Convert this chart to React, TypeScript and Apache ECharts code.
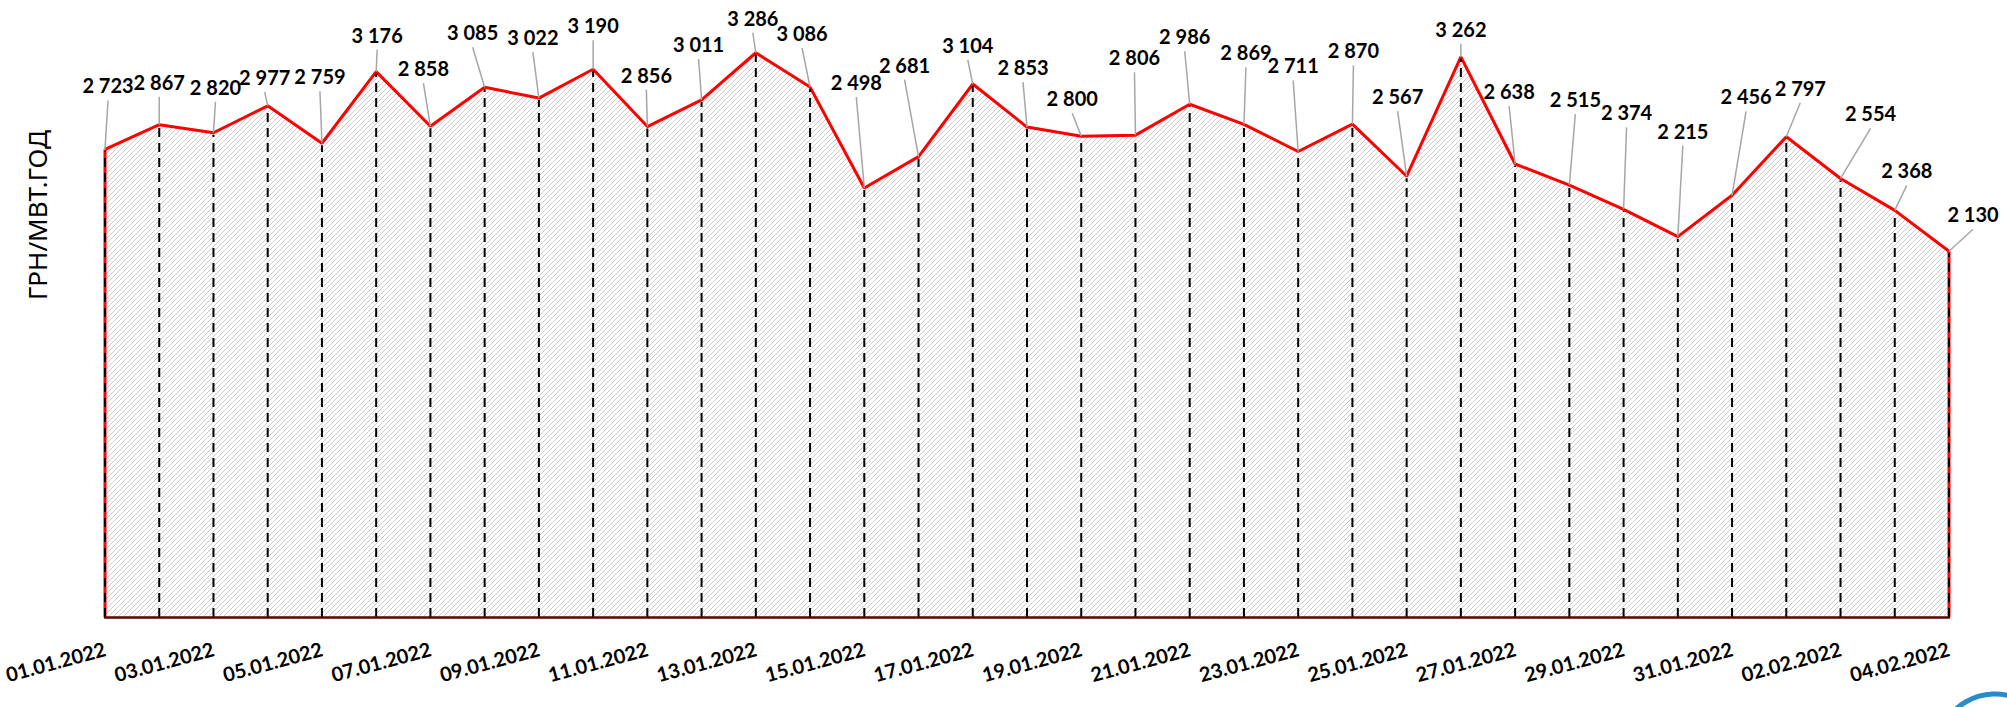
import React, { useEffect, useRef } from "react";
import * as echarts from "echarts";

const dates: string[] = [
  "01.01.2022", "02.01.2022", "03.01.2022", "04.01.2022", "05.01.2022", "06.01.2022", "07.01.2022",
  "08.01.2022", "09.01.2022", "10.01.2022", "11.01.2022", "12.01.2022", "13.01.2022", "14.01.2022",
  "15.01.2022", "16.01.2022", "17.01.2022", "18.01.2022", "19.01.2022", "20.01.2022", "21.01.2022",
  "22.01.2022", "23.01.2022", "24.01.2022", "25.01.2022", "26.01.2022", "27.01.2022", "28.01.2022",
  "29.01.2022", "30.01.2022", "31.01.2022", "01.02.2022", "02.02.2022", "03.02.2022", "04.02.2022",
];

const prices: number[] = [
  2723, 2867, 2820, 2977, 2759, 3176, 2858, 3085, 3022, 3190, 2856, 3011, 3286, 3086, 2498, 2681,
  3104, 2853, 2800, 2806, 2986, 2869, 2711, 2870, 2567, 3262, 2638, 2515, 2374, 2215, 2456, 2797,
  2554, 2368, 2130,
];

// label placement relative to each point [dx, dy] (style only)
const labelOffsets: [number, number][] = [
  [3, -64], [0, -43], [2, -46], [-3, -29], [-2, -67], [1, -37], [-7, -58], [-12, -55], [-6, -61],
  [0, -44], [-1, -52], [-3, -56], [-3, -35], [-8, -54], [-8, -106], [-14, -92], [-5, -39], [-4, -60],
  [-9, -38], [-1, -78], [-5, -68], [2, -72], [-5, -86], [1, -74], [-9, -80], [0, -28], [-6, -73],
  [6, -86], [3, -97], [5, -106], [14, -99], [14, -49], [30, -65], [12, -40], [24, -37],
];

const yName = "ГРН/МВТ.ГОД";

function fmt(v: number): string {
  const s = String(Math.round(v));
  return s.replace(/\B(?=(\d{3})+(?!\d))/g, " ");
}

function makeHatch(): string {
  const size = 5;
  const c = document.createElement("canvas");
  c.width = size;
  c.height = size;
  const ctx = c.getContext("2d");
  if (ctx) {
    ctx.fillStyle = "#ffffff";
    ctx.fillRect(0, 0, size, size);
    ctx.strokeStyle = "#cccccc";
    ctx.lineWidth = 1;
    ctx.beginPath();
    ctx.moveTo(-1, size + 1);
    ctx.lineTo(size + 1, -1);
    ctx.moveTo(-2, 1);
    ctx.lineTo(1, -2);
    ctx.moveTo(size - 1, size + 2);
    ctx.lineTo(size + 2, size - 1);
    ctx.stroke();
  }
  return c.toDataURL();
}

export default function App() {
  const ref = useRef<HTMLDivElement>(null);

  useEffect(() => {
    if (!ref.current) return;
    const chart = echarts.init(ref.current, null, { renderer: "svg" });
    const hatch = makeHatch();
    const last = prices.length - 1;

    const option: any = {
      animation: false,
      backgroundColor: "#ffffff",
      grid: { left: 105, right: 58, top: 16, bottom: 90, containLabel: false },
      xAxis: {
        type: "category",
        data: dates,
        boundaryGap: false,
        z: 5,
        axisLine: { show: true, lineStyle: { color: "#5a0505", width: 2.5 } },
        axisTick: { show: false },
        splitLine: { show: false },
        axisLabel: {
          interval: 1,
          rotate: 15,
          margin: 31,
          color: "#000000",
          fontFamily: "Lato",
          fontWeight: "bold",
          fontSize: 20,
        },
      },
      yAxis: {
        type: "value",
        min: 0,
        max: 3500,
        show: false,
        splitLine: { show: false },
      },
      graphic: [
        {
          type: "text",
          x: 37,
          y: 215,
          rotation: Math.PI / 2,
          style: {
            text: yName,
            font: '26px "Noto Sans"',
            fill: "#000000",
            align: "center",
            verticalAlign: "middle",
          },
        },
        {
          type: "circle",
          shape: { cx: 1995, cy: 752, r: 58 },
          style: { fill: "none", stroke: "#2a8bcb", lineWidth: 5 },
        },
      ],
      series: [
        {
          type: "line",
          data: prices,
          z: 2,
          showSymbol: false,
          symbol: "none",
          lineStyle: { color: "#ff0000", width: 3 },
          areaStyle: {
            color: { image: hatch, repeat: "repeat", imageWidth: 5, imageHeight: 5 },
            opacity: 1,
          },
        },
        {
          type: "custom",
          z: 3,
          clip: false,
          data: prices.map((v, i) => [i, v]),
          encode: { x: 0, y: 1 },
          renderItem: (params: any, api: any) => {
            const i = api.value(0);
            const v = api.value(1);
            const p = api.coord([i, v]);
            const b = api.coord([i, 0]);
            const off = labelOffsets[i] || [0, -40];
            const cx = p[0] + off[0];
            const cy = p[1] + off[1];
            const children: any[] = [];
            if (i === 0 || i === last) {
              children.push({
                type: "line",
                shape: { x1: b[0], y1: b[1], x2: p[0], y2: p[1] },
                style: { stroke: "#ff0000", lineWidth: 3 },
              });
            }
            children.push({
              type: "line",
              shape: { x1: b[0], y1: b[1], x2: p[0], y2: p[1] + 2 },
              style: { stroke: "#000000", lineWidth: 2, lineDash: [9, 6] },
            });
            children.push({
              type: "line",
              shape: { x1: p[0], y1: p[1], x2: cx, y2: cy + 15 },
              style: { stroke: "#a6a6a6", lineWidth: 1.5 },
            });
            children.push({
              type: "text",
              x: cx,
              y: cy,
              style: {
                text: fmt(v),
                fill: "#000000",
                font: 'bold 20px "Lato"',
                align: "center",
                verticalAlign: "middle",
              },
            });
            return { type: "group", children };
          },
        },
      ],
    };

    chart.setOption(option);
    return () => {
      chart.dispose();
    };
  }, []);

  return (
    <div
      ref={ref}
      style={{ position: "fixed", left: 0, top: 0, width: 2007, height: 707, background: "#fff" }}
    />
  );
}
